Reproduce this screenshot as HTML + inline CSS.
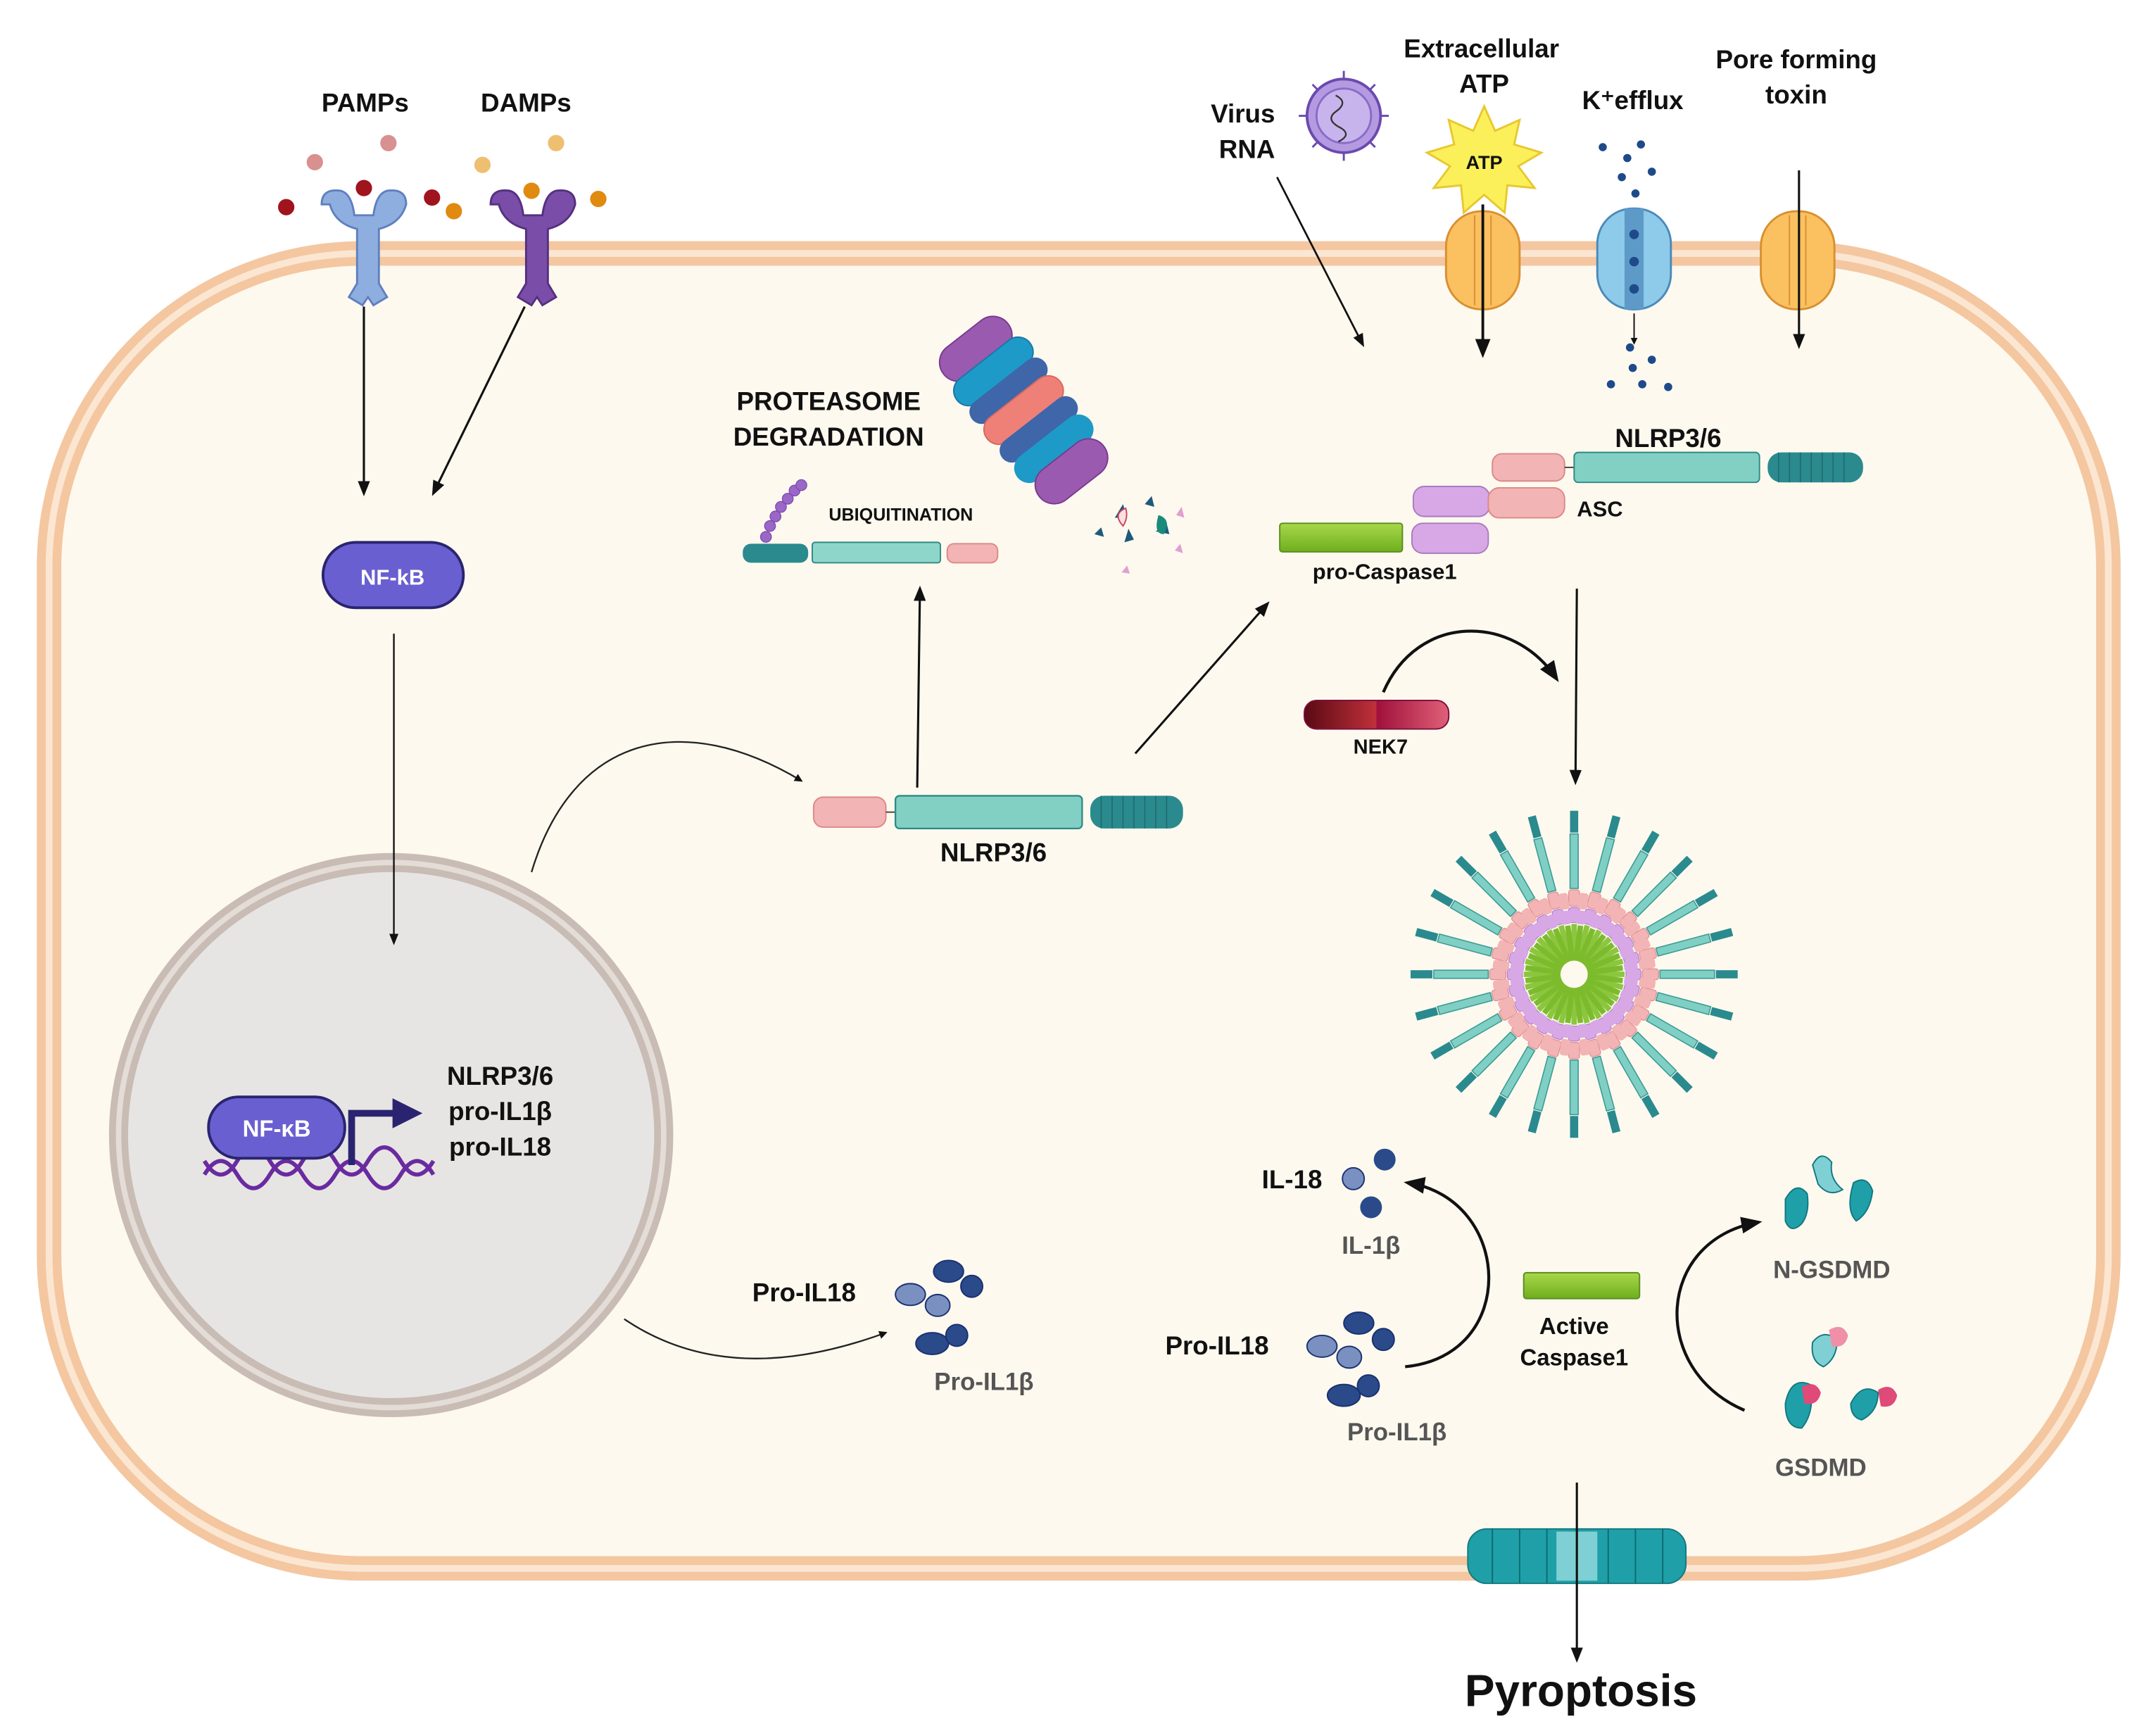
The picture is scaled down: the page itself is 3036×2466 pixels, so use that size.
<!DOCTYPE html>
<html><head><meta charset="utf-8"><style>
html,body{margin:0;padding:0;background:#fff}
svg{display:block}
text{font-family:"Liberation Sans",Arial,sans-serif;font-weight:bold;fill:#111}
</style></head><body>
<svg width="3036" height="2466" viewBox="0 0 1568 1274" preserveAspectRatio="none" xmlns="http://www.w3.org/2000/svg">
<defs>
<marker id="ah" viewBox="0 0 10 10" refX="8" refY="5" markerWidth="5" markerHeight="5" orient="auto"><path d="M0,0 L10,5 L0,10 z" fill="#111"/></marker>
<marker id="ahs" viewBox="0 0 10 10" refX="8" refY="5" markerWidth="7" markerHeight="7" orient="auto"><path d="M0,1 L10,5 L0,9 z" fill="#111"/></marker>
<linearGradient id="gr" x1="0" x2="0" y1="0" y2="1"><stop offset="0" stop-color="#a8d84a"/><stop offset="1" stop-color="#6fae1e"/></linearGradient>
<linearGradient id="nek" x1="0" x2="1"><stop offset="0" stop-color="#5a0a14"/><stop offset="0.5" stop-color="#c0303a"/><stop offset="0.5" stop-color="#a0103a"/><stop offset="1" stop-color="#e06078"/></linearGradient>
<g id="spoke">
  <rect x="-3" y="-120" width="6" height="16" fill="#2a8a8e"/>
  <rect x="-3" y="-103" width="6" height="40" fill="#7fcfc4" stroke="#3a9a94" stroke-width="0.8"/>
  <rect x="-4" y="-62" width="8" height="12" rx="2" fill="#f2b4b4" stroke="#e08a8a" stroke-width="0.6"/>
  <rect x="-4" y="-49" width="8" height="11" rx="2" fill="#d8a8e6" stroke="#b07cc8" stroke-width="0.6"/>
  <rect x="-2" y="-37" width="4" height="27" fill="#8cc63f"/>
</g>
<g id="spk2">
  <rect x="-4" y="-60" width="7" height="12" rx="2" fill="#f2b4b4"/>
  <rect x="-4" y="-47" width="7" height="10" rx="2" fill="#d8a8e6"/>
  <rect x="-2" y="-36" width="4" height="26" fill="#7cbc2c"/>
</g>
</defs>
<rect width="1568" height="1274" fill="#fff"/>
<!-- cell -->
<rect x="36" y="186" width="1511" height="965" rx="230" fill="#fdf9ef" stroke="#f4c7a0" stroke-width="18"/>
<rect x="36" y="186" width="1511" height="965" rx="230" fill="none" stroke="#fbe6d2" stroke-width="5"/>
<!-- nucleus -->
<circle cx="287" cy="833" r="200" fill="#e7e5e3" stroke="#c8bcb5" stroke-width="14"/>
<circle cx="287" cy="833" r="200" fill="none" stroke="#e4dcd6" stroke-width="4"/>
<!-- PAMP/DAMP -->
<text x="268" y="82" font-size="19" text-anchor="middle">PAMPs</text>
<text x="386" y="82" font-size="19" text-anchor="middle">DAMPs</text>
<g>
<circle cx="231" cy="119" r="6" fill="#d89090"/><circle cx="285" cy="105" r="6" fill="#d89090"/>
<circle cx="210" cy="152" r="6" fill="#a0141e"/><circle cx="317" cy="145" r="6" fill="#a0141e"/><circle cx="267" cy="138" r="6" fill="#a0141e"/>
<circle cx="354" cy="121" r="6" fill="#eebf70"/><circle cx="408" cy="105" r="6" fill="#eebf70"/>
<circle cx="333" cy="155" r="6" fill="#e08a10"/><circle cx="439" cy="146" r="6" fill="#e08a10"/><circle cx="390" cy="140" r="6" fill="#e08a10"/>
<path d="M236,150 q0,-12 14,-10 q8,2 10,18 h14 q2,-16 10,-18 q14,-2 14,10 q-4,14 -20,18 v40 l6,10 -10,6 -4,-6 -4,6 -10,-6 6,-10 v-40 q-16,-4 -20,-18z" fill="#8faee0" stroke="#5f7fbf" stroke-width="1.5"/>
<path d="M360,150 q0,-12 14,-10 q8,2 10,18 h14 q2,-16 10,-18 q14,-2 14,10 q-4,14 -20,18 v40 l6,10 -10,6 -4,-6 -4,6 -10,-6 6,-10 v-40 q-16,-4 -20,-18z" fill="#7a4ea8" stroke="#553080" stroke-width="1.5"/>
</g>
<line x1="267" y1="225" x2="267" y2="362" stroke="#111" stroke-width="1.6" marker-end="url(#ahs)"/>
<line x1="385" y1="225" x2="318" y2="362" stroke="#111" stroke-width="1.6" marker-end="url(#ahs)"/>
<rect x="237" y="398" width="103" height="48" rx="24" fill="#6a5fd0" stroke="#2a2470" stroke-width="2"/>
<text x="288" y="429" font-size="16" text-anchor="middle" style="fill:#fff">NF-kB</text>
<line x1="289" y1="465" x2="289" y2="692" stroke="#111" stroke-width="1.2" marker-end="url(#ahs)"/>
<!-- nucleus content -->
<path d="M150,862 q12,-20 24,0 t24,0 t24,0 t24,0 t24,0 t24,0 t24,0" fill="none" stroke="#6a2aa0" stroke-width="3"/>
<path d="M150,852 q12,20 24,0 t24,0 t24,0 t24,0 t24,0 t24,0 t24,0" fill="none" stroke="#6a2aa0" stroke-width="3"/>
<rect x="153" y="805" width="100" height="45" rx="22" fill="#6a5fd0" stroke="#2a2470" stroke-width="2"/>
<text x="203" y="834" font-size="17" text-anchor="middle" style="fill:#fff">NF-κB</text>
<path d="M258,855 v-38 h32" fill="none" stroke="#2a2470" stroke-width="5"/>
<path d="M288,806 l22,11 -22,11z" fill="#2a2470"/>
<text x="367" y="796" font-size="19" text-anchor="middle">NLRP3/6</text>
<text x="367" y="822" font-size="19" text-anchor="middle">pro-IL1β</text>
<text x="367" y="848" font-size="19" text-anchor="middle">pro-IL18</text>
<!-- curved arrows from nucleus -->
<path d="M390,640 C420,540 500,520 588,573" fill="none" stroke="#222" stroke-width="1.2" marker-end="url(#ah)"/>
<path d="M458,968 C520,1010 590,1000 650,978" fill="none" stroke="#222" stroke-width="1.2" marker-end="url(#ah)"/>
<!-- center NLRP3 -->
<rect x="597" y="585" width="53" height="22" rx="7" fill="#f2b4b4" stroke="#d88" stroke-width="1"/>
<line x1="650" y1="596" x2="657" y2="596" stroke="#444"/>
<rect x="657" y="584" width="137" height="24" rx="3" fill="#82d0c4" stroke="#2e8a84" stroke-width="1.2"/>
<rect x="800" y="584" width="68" height="24" rx="10" fill="#2a8a8e"/>
<g stroke="#1e6a6e" stroke-width="0.8"><line x1="808" y1="584" x2="808" y2="608"/><line x1="816" y1="584" x2="816" y2="608"/><line x1="824" y1="584" x2="824" y2="608"/><line x1="832" y1="584" x2="832" y2="608"/><line x1="840" y1="584" x2="840" y2="608"/><line x1="848" y1="584" x2="848" y2="608"/><line x1="856" y1="584" x2="856" y2="608"/></g>
<text x="729" y="632" font-size="19" text-anchor="middle">NLRP3/6</text>
<line x1="673" y1="578" x2="675" y2="432" stroke="#111" stroke-width="1.6" marker-end="url(#ahs)"/>
<line x1="833" y1="553" x2="930" y2="443" stroke="#111" stroke-width="1.6" marker-end="url(#ahs)"/>
<!-- ubiquitination -->
<rect x="545" y="399" width="48" height="14" rx="6" fill="#2a8a8e"/>
<rect x="596" y="398" width="94" height="15" rx="2" fill="#8fd6ca" stroke="#2e8a84"/>
<rect x="695" y="399" width="37" height="14" rx="5" fill="#f2b4b4" stroke="#d88"/>
<g fill="#9a66c8" stroke="#7a46a8" stroke-width="0.6"><circle cx="562" cy="394" r="4"/><circle cx="565" cy="386" r="4"/><circle cx="569" cy="379" r="4"/><circle cx="573" cy="372" r="4"/><circle cx="578" cy="366" r="4"/><circle cx="583" cy="360" r="4"/><circle cx="588" cy="356" r="4"/></g>
<text x="661" y="382" font-size="13" text-anchor="middle">UBIQUITINATION</text>
<text x="608" y="301" font-size="19" text-anchor="middle">PROTEASOME</text>
<text x="608" y="327" font-size="19" text-anchor="middle">DEGRADATION</text>
<!-- proteasome -->
<g transform="translate(748,297) rotate(52)">
<rect x="-66" y="-30" width="28" height="60" rx="14" fill="#9a5ab0" stroke="#7a3a90"/>
<rect x="-42" y="-34" width="22" height="68" rx="11" fill="#1e9ac8" stroke="#1878a8"/>
<rect x="-22" y="-34" width="18" height="68" rx="9" fill="#3e66a8"/>
<rect x="-6" y="-34" width="22" height="68" rx="11" fill="#ee8078" stroke="#d86860"/>
<rect x="14" y="-34" width="18" height="68" rx="9" fill="#3e66a8"/>
<rect x="30" y="-34" width="22" height="68" rx="11" fill="#1e9ac8"/>
<rect x="48" y="-30" width="28" height="60" rx="14" fill="#9a5ab0" stroke="#7a3a90"/>
</g>
<g fill="#1e5a7a"><path d="M818,380 l6,-10 3,10z"/><path d="M840,370 l5,-6 2,8z"/><path d="M848,390 l8,-6 2,8z"/><path d="M803,392 l5,-5 2,7z"/><path d="M825,398 l3,-10 4,8z"/></g>
<path d="M850,378 q10,3 4,14 q-8,0 -4,-14z" fill="#1a8a7a"/>
<path d="M826,373 q-10,4 -2,13 q4,-6 2,-13z" fill="#fbe0e0" stroke="#c46"/>
<g fill="#e0a0d0"><path d="M863,378 l4,-6 2,8z"/><path d="M862,404 l4,-5 2,7z"/><path d="M823,420 l4,-5 2,6z"/></g>
<!-- top right -->
<text x="912" y="90" font-size="19" text-anchor="middle">Virus</text>
<text x="915" y="116" font-size="19" text-anchor="middle">RNA</text>
<circle cx="986" cy="85" r="27" fill="#b49ae0" stroke="#6a4ab0" stroke-width="2"/>
<circle cx="986" cy="85" r="20" fill="#c8b4ec" stroke="#8a6ac8" stroke-width="1.5"/>
<path d="M980,70 q10,5 0,12 q-8,6 4,12 q8,5 -2,10" fill="none" stroke="#333" stroke-width="1.2"/>
<g stroke="#6a4ab0" stroke-width="1.5"><line x1="986" y1="52" x2="986" y2="58"/><line x1="986" y1="112" x2="986" y2="118"/><line x1="953" y1="85" x2="959" y2="85"/><line x1="1013" y1="85" x2="1019" y2="85"/><line x1="963" y1="62" x2="967" y2="66"/><line x1="1009" y1="62" x2="1005" y2="66"/><line x1="963" y1="108" x2="967" y2="104"/><line x1="1009" y1="108" x2="1005" y2="104"/></g>
<line x1="937" y1="130" x2="1000" y2="253" stroke="#111" stroke-width="1.4" marker-end="url(#ahs)"/>
<text x="1087" y="42" font-size="19" text-anchor="middle">Extracellular</text>
<text x="1089" y="68" font-size="19" text-anchor="middle">ATP</text>
<path d="M1089,78 l8,18 18,-8 -4,18 20,6 -17,10 12,16 -20,-2 -2,20 -15,-13 -15,13 -2,-20 -20,2 12,-16 -17,-10 20,-6 -4,-18 18,8z" fill="#fbf05a" stroke="#e8c830" stroke-width="1.5"/>
<text x="1089" y="124" font-size="14" text-anchor="middle">ATP</text>
<rect x="1061" y="155" width="54" height="72" rx="26" fill="#fbc060" stroke="#d89030" stroke-width="1.5"/>
<line x1="1082" y1="158" x2="1082" y2="224" stroke="#d89030"/><line x1="1094" y1="158" x2="1094" y2="224" stroke="#d89030"/>
<line x1="1088" y1="150" x2="1088" y2="260" stroke="#111" stroke-width="2" marker-end="url(#ahs)"/>
<text x="1198" y="80" font-size="19" text-anchor="middle">K⁺efflux</text>
<rect x="1172" y="153" width="54" height="74" rx="26" fill="#8ecaea" stroke="#4a8ab8" stroke-width="1.5"/>
<rect x="1192" y="153" width="14" height="74" fill="#5e9ac8"/>
<g fill="#1e4a8a"><circle cx="1199" cy="172" r="3.5"/><circle cx="1199" cy="192" r="3.5"/><circle cx="1199" cy="212" r="3.5"/>
<circle cx="1176" cy="108" r="3"/><circle cx="1194" cy="116" r="3"/><circle cx="1204" cy="106" r="3"/><circle cx="1212" cy="126" r="3"/><circle cx="1190" cy="130" r="3"/><circle cx="1200" cy="142" r="3"/>
<circle cx="1182" cy="282" r="3"/><circle cx="1198" cy="270" r="3"/><circle cx="1212" cy="264" r="3"/><circle cx="1205" cy="282" r="3"/><circle cx="1224" cy="284" r="3"/><circle cx="1196" cy="255" r="3"/></g>
<line x1="1199" y1="230" x2="1199" y2="252" stroke="#111" stroke-width="1" marker-end="url(#ah)"/>
<text x="1318" y="50" font-size="19" text-anchor="middle">Pore forming</text>
<text x="1318" y="76" font-size="19" text-anchor="middle">toxin</text>
<rect x="1292" y="155" width="54" height="72" rx="26" fill="#fbc060" stroke="#d89030" stroke-width="1.5"/>
<line x1="1313" y1="158" x2="1313" y2="224" stroke="#d89030"/><line x1="1325" y1="158" x2="1325" y2="224" stroke="#d89030"/>
<line x1="1320" y1="125" x2="1320" y2="254" stroke="#111" stroke-width="1.6" marker-end="url(#ahs)"/>
<!-- NLRP3 complex -->
<text x="1224" y="328" font-size="19" text-anchor="middle">NLRP3/6</text>
<rect x="1095" y="333" width="53" height="20" rx="7" fill="#f2b4b4" stroke="#d88"/>
<line x1="1148" y1="343" x2="1155" y2="343" stroke="#444"/>
<rect x="1155" y="332" width="136" height="22" rx="3" fill="#82d0c4" stroke="#2e8a84"/>
<rect x="1297" y="332" width="70" height="22" rx="10" fill="#2a8a8e"/>
<g stroke="#1e6a6e" stroke-width="0.8"><line x1="1305" y1="332" x2="1305" y2="354"/><line x1="1313" y1="332" x2="1313" y2="354"/><line x1="1321" y1="332" x2="1321" y2="354"/><line x1="1329" y1="332" x2="1329" y2="354"/><line x1="1337" y1="332" x2="1337" y2="354"/><line x1="1345" y1="332" x2="1345" y2="354"/><line x1="1353" y1="332" x2="1353" y2="354"/></g>
<rect x="1037" y="357" width="56" height="22" rx="8" fill="#d8a8e6" stroke="#a87cc0"/>
<rect x="1092" y="358" width="56" height="22" rx="8" fill="#f2b4b4" stroke="#d88"/>
<text x="1157" y="379" font-size="16">ASC</text>
<rect x="939" y="384" width="90" height="21" rx="2" fill="url(#gr)" stroke="#5a8e20"/>
<rect x="1036" y="384" width="56" height="22" rx="8" fill="#d8a8e6" stroke="#a87cc0"/>
<text x="1016" y="425" font-size="16" text-anchor="middle">pro-Caspase1</text>
<!-- NEK7 -->
<rect x="957" y="514" width="106" height="21" rx="9" fill="url(#nek)" stroke="#7a1040"/>
<text x="1013" y="553" font-size="15" text-anchor="middle">NEK7</text>
<path d="M1015,508 C1040,450 1110,450 1142,498" fill="none" stroke="#111" stroke-width="2.2" marker-end="url(#ahs)"/>
<line x1="1157" y1="432" x2="1156" y2="574" stroke="#111" stroke-width="1.6" marker-end="url(#ahs)"/>
<!-- inflammasome -->
<g transform="translate(1155,715)">
<use href="#spoke" transform="rotate(0)"/><use href="#spoke" transform="rotate(15)"/><use href="#spoke" transform="rotate(30)"/><use href="#spoke" transform="rotate(45)"/><use href="#spoke" transform="rotate(60)"/><use href="#spoke" transform="rotate(75)"/><use href="#spoke" transform="rotate(90)"/><use href="#spoke" transform="rotate(105)"/><use href="#spoke" transform="rotate(120)"/><use href="#spoke" transform="rotate(135)"/><use href="#spoke" transform="rotate(150)"/><use href="#spoke" transform="rotate(165)"/><use href="#spoke" transform="rotate(180)"/><use href="#spoke" transform="rotate(195)"/><use href="#spoke" transform="rotate(210)"/><use href="#spoke" transform="rotate(225)"/><use href="#spoke" transform="rotate(240)"/><use href="#spoke" transform="rotate(255)"/><use href="#spoke" transform="rotate(270)"/><use href="#spoke" transform="rotate(285)"/><use href="#spoke" transform="rotate(300)"/><use href="#spoke" transform="rotate(315)"/><use href="#spoke" transform="rotate(330)"/><use href="#spoke" transform="rotate(345)"/>
<use href="#spk2" transform="rotate(7.5)"/><use href="#spk2" transform="rotate(22.5)"/><use href="#spk2" transform="rotate(37.5)"/><use href="#spk2" transform="rotate(52.5)"/><use href="#spk2" transform="rotate(67.5)"/><use href="#spk2" transform="rotate(82.5)"/><use href="#spk2" transform="rotate(97.5)"/><use href="#spk2" transform="rotate(112.5)"/><use href="#spk2" transform="rotate(127.5)"/><use href="#spk2" transform="rotate(142.5)"/><use href="#spk2" transform="rotate(157.5)"/><use href="#spk2" transform="rotate(172.5)"/><use href="#spk2" transform="rotate(187.5)"/><use href="#spk2" transform="rotate(202.5)"/><use href="#spk2" transform="rotate(217.5)"/><use href="#spk2" transform="rotate(232.5)"/><use href="#spk2" transform="rotate(247.5)"/><use href="#spk2" transform="rotate(262.5)"/><use href="#spk2" transform="rotate(277.5)"/><use href="#spk2" transform="rotate(292.5)"/><use href="#spk2" transform="rotate(307.5)"/><use href="#spk2" transform="rotate(322.5)"/><use href="#spk2" transform="rotate(337.5)"/><use href="#spk2" transform="rotate(352.5)"/>
<circle r="8" fill="#fdf9ef"/>
</g>
<!-- Pro-IL18 left -->
<text x="590" y="955" font-size="19" text-anchor="middle">Pro-IL18</text>
<g fill="#2a4a8a" stroke="#1a3070" stroke-width="1">
<ellipse cx="668" cy="950" rx="11" ry="8" fill="#7a90c0"/><ellipse cx="688" cy="958" rx="9" ry="8" fill="#7a90c0"/>
<ellipse cx="696" cy="933" rx="11" ry="8"/><circle cx="713" cy="944" r="8"/>
<ellipse cx="684" cy="986" rx="12" ry="8"/><circle cx="702" cy="980" r="8"/>
</g>
<text x="722" y="1020" font-size="18" text-anchor="middle" style="fill:#555">Pro-IL1β</text>
<!-- Right: IL-18 -->
<text x="948" y="872" font-size="19" text-anchor="middle">IL-18</text>
<circle cx="993" cy="865" r="8" fill="#7a90c0" stroke="#1a3070"/><circle cx="1016" cy="851" r="8" fill="#2a4a8a"/><circle cx="1006" cy="886" r="8" fill="#2a4a8a"/>
<text x="1006" y="920" font-size="18" text-anchor="middle" style="fill:#555">IL-1β</text>
<text x="893" y="994" font-size="19" text-anchor="middle">Pro-IL18</text>
<g fill="#2a4a8a" stroke="#1a3070" stroke-width="1">
<ellipse cx="970" cy="988" rx="11" ry="8" fill="#7a90c0"/><ellipse cx="990" cy="996" rx="9" ry="8" fill="#7a90c0"/>
<ellipse cx="997" cy="971" rx="11" ry="8"/><circle cx="1015" cy="983" r="8"/>
<ellipse cx="986" cy="1024" rx="12" ry="8"/><circle cx="1004" cy="1017" r="8"/>
</g>
<text x="1025" y="1057" font-size="18" text-anchor="middle" style="fill:#555">Pro-IL1β</text>
<path d="M1031,1003 C1115,995 1110,880 1033,868" fill="none" stroke="#111" stroke-width="2.2" marker-end="url(#ahs)"/>
<rect x="1118" y="934" width="85" height="19" rx="2" fill="url(#gr)" stroke="#5a8e20"/>
<text x="1155" y="979" font-size="17" text-anchor="middle">Active</text>
<text x="1155" y="1002" font-size="17" text-anchor="middle">Caspase1</text>
<path d="M1280,1035 C1210,1005 1215,910 1290,897" fill="none" stroke="#111" stroke-width="2.2" marker-end="url(#ahs)"/>
<!-- GSDMD -->
<g fill="#1fa0a8" stroke="#137880">
<path d="M1310,880 q8,-14 16,-4 q2,14 -4,22 q-8,8 -12,-2z"/><path d="M1330,855 q6,-12 14,-2 q-2,12 8,20 q-10,6 -18,-4z" fill="#7fd0d4"/><path d="M1360,868 q10,-6 14,6 q-2,16 -12,22 q-8,-8 -2,-28z"/>
<path d="M1310,1030 q4,-20 18,-14 q4,20 -6,32 q-12,0 -12,-18z"/><path d="M1330,985 q8,-10 18,-2 q0,14 -10,20 q-10,-4 -8,-18z" fill="#7fd0d4"/><path d="M1358,1030 q8,-16 20,-8 q0,14 -12,20 q-8,-2 -8,-12z"/>
</g>
<g fill="#e04a78"><path d="M1322,1018 q10,-6 14,4 q-2,10 -12,8z"/><path d="M1342,976 q10,-6 14,4 q-2,10 -12,8z" fill="#f090a8"/><path d="M1378,1020 q10,-6 14,4 q-2,10 -12,8z"/></g>
<text x="1344" y="938" font-size="18" text-anchor="middle" style="fill:#555">N-GSDMD</text>
<text x="1336" y="1083" font-size="18" text-anchor="middle" style="fill:#555">GSDMD</text>
<!-- pore -->
<rect x="1077" y="1122" width="160" height="40" rx="14" fill="#1fa0a8" stroke="#137880"/>
<g stroke="#0e6a70" stroke-width="1"><line x1="1095" y1="1122" x2="1095" y2="1162"/><line x1="1115" y1="1122" x2="1115" y2="1162"/><line x1="1135" y1="1122" x2="1135" y2="1162"/><line x1="1180" y1="1122" x2="1180" y2="1162"/><line x1="1200" y1="1122" x2="1200" y2="1162"/><line x1="1220" y1="1122" x2="1220" y2="1162"/></g>
<rect x="1142" y="1124" width="30" height="36" fill="#7fd0d4"/>
<line x1="1157" y1="1088" x2="1157" y2="1218" stroke="#111" stroke-width="1.6" marker-end="url(#ahs)"/>
<text x="1160" y="1252" font-size="33" text-anchor="middle">Pyroptosis</text>
</svg>
</body></html>
